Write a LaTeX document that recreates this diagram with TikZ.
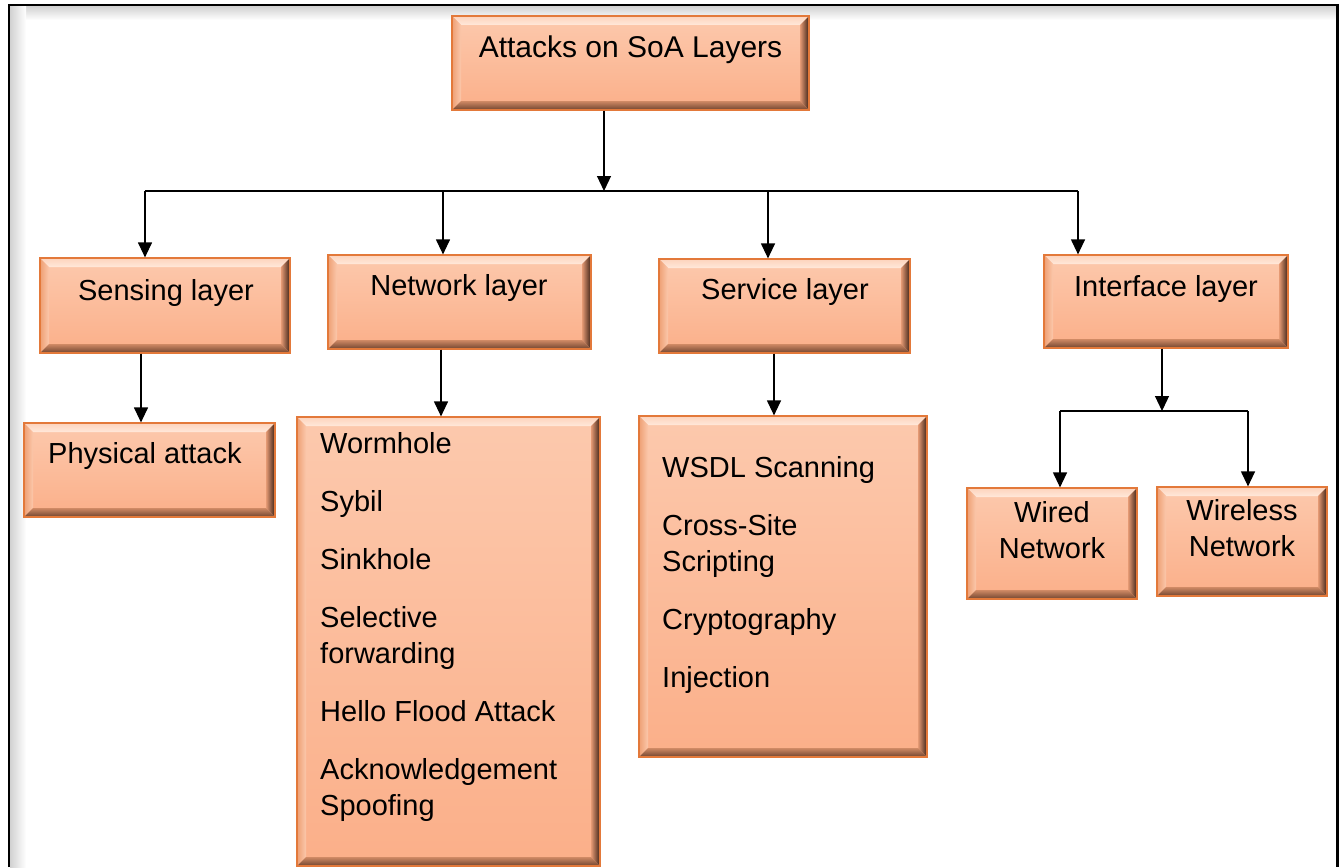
\documentclass[tikz,border=0pt]{standalone}
\usepackage{fontspec}
\setmainfont{Liberation Sans}
\usetikzlibrary{arrows.meta,calc}

\definecolor{fillTop}{HTML}{FCC9AD}
\definecolor{fillBot}{HTML}{FBAF89}
\definecolor{boxline}{HTML}{E3793A}
\definecolor{bevTopOut}{HTML}{FDD3BC}
\definecolor{bevTopIn}{HTML}{FFE8DA}
\definecolor{bevLeftOut}{HTML}{EE9F74}
\definecolor{bevLeftIn}{HTML}{FBC8AB}
\definecolor{bevRightIn}{HTML}{E59A74}
\definecolor{bevRightOut}{HTML}{3E2216}
\definecolor{bevBotIn}{HTML}{D08A65}
\definecolor{bevBotOut}{HTML}{70442F}

\newcommand\bevw{9pt}

\tikzset{
  box/.style={draw=boxline, line width=1.2pt, top color=fillTop, bottom color=fillBot,
    inner sep=0pt, path picture={
      \coordinate (pNW) at (path picture bounding box.north west);
      \coordinate (pNE) at (path picture bounding box.north east);
      \coordinate (pSW) at (path picture bounding box.south west);
      \coordinate (pSE) at (path picture bounding box.south east);
      % top bevel
      \shade[top color=bevTopOut, bottom color=bevTopIn]
        (pNW) -- (pNE) -- ([xshift=-\bevw,yshift=-\bevw]pNE) -- ([xshift=\bevw,yshift=-\bevw]pNW) -- cycle;
      % left bevel
      \shade[left color=bevLeftOut, right color=bevLeftIn]
        (pNW) -- ([xshift=\bevw,yshift=-\bevw]pNW) -- ([xshift=\bevw,yshift=\bevw]pSW) -- (pSW) -- cycle;
      % right bevel
      \shade[left color=bevRightIn, right color=bevRightOut]
        (pNE) -- ([xshift=-\bevw,yshift=-\bevw]pNE) -- ([xshift=-\bevw,yshift=\bevw]pSE) -- (pSE) -- cycle;
      % bottom bevel
      \shade[top color=bevBotIn, bottom color=bevBotOut]
        (pSW) -- ([xshift=\bevw,yshift=\bevw]pSW) -- ([xshift=-\bevw,yshift=\bevw]pSE) -- (pSE) -- cycle;
    }},
  lbl/.style={inner sep=0pt, font=\fontsize{29}{36}\selectfont},
  ln/.style={line width=1.2pt},
  arr/.style={line width=1.2pt, -{Triangle[width=14pt,length=15pt]}}
}

\begin{document}
\begin{tikzpicture}[x=1pt,y=-1pt]
\useasboundingbox (0,0) rectangle (1340,867);
\fill[white] (0,0) rectangle (1340,867);

% page frame with soft inner shadow
\shade[top color=black!18, bottom color=white] (10,6) rectangle (1336,20);
\shade[left color=black!18, right color=white] (10,6) rectangle (26,867);
\draw[line width=2pt] (9,867) -- (9,5) -- (1337,5);
\draw[line width=3pt] (1337,4) -- (1337,867);

% boxes
\node[box, minimum width=357pt, minimum height=94pt] (top) at (630.5,63) {};
\node[box, minimum width=250pt, minimum height=95pt] (sense) at (165,305.5) {};
\node[box, minimum width=263pt, minimum height=94pt] (net) at (459.5,302) {};
\node[box, minimum width=251pt, minimum height=94pt] (serv) at (784.5,306) {};
\node[box, minimum width=244pt, minimum height=93pt] (intf) at (1166,301.5) {};
\node[box, minimum width=251pt, minimum height=94pt] (phys) at (149.5,470) {};
\node[box, minimum width=303pt, minimum height=449pt] (netlist) at (448.5,641.5) {};
\node[box, minimum width=288pt, minimum height=341pt] (servlist) at (783,586.5) {};
\node[box, minimum width=170pt, minimum height=111pt] (wired) at (1052,543.5) {};
\node[box, minimum width=170pt, minimum height=109pt] (wireless) at (1242,541.5) {};

% texts (multi-line texts are anchored at the baseline of their last line)
\node[lbl, anchor=base, font=\fontsize{30}{36}\selectfont] (topT) at (630.5,57) {Attacks on SoA Layers};
\node[lbl, anchor=base] (senseT) at (166,300) {Sensing layer};
\node[lbl, anchor=base] (netT) at (459,295) {Network layer};
\node[lbl, anchor=base] (servT) at (785,299) {Service layer};
\node[lbl, anchor=base] (intfT) at (1166,296) {Interface layer};
\node[lbl, anchor=base west] (physT) at (48,463) {Physical attack};
\node[lbl, anchor=base, align=center] (wiredT) at (1052,558) {Wired\\Network};
\node[lbl, anchor=base, align=center] (wirelessT) at (1242,556) {Wireless\\Network};
\node[lbl, anchor=base west, align=left] (netlistT) at (320,815)
  {Wormhole\\[22pt]Sybil\\[22pt]Sinkhole\\[22pt]Selective\\forwarding\\[22pt]Hello Flood Attack\\[22pt]Acknowledgement\\Spoofing};
\node[lbl, anchor=base west, align=left] (servlistT) at (662,687)
  {WSDL Scanning\\[22pt]Cross-Site\\Scripting\\[22pt]Cryptography\\[22pt]Injection};

% first level connectors
\coordinate (hub) at (604,191);
\coordinate (bS) at (145,191);
\coordinate (bN) at (443,191);
\coordinate (bV) at (768,191);
\coordinate (bI) at (1078,191);
\draw[ln] (bS) -- (bI);
\draw[arr] (top.south -| hub) -- (hub);
\draw[arr] (bS) -- (bS |- sense.north);
\draw[arr] (bN) -- (bN |- net.north);
\draw[arr] (bV) -- (bV |- serv.north);
\draw[arr] (bI) -- (bI |- intf.north);

% second level connectors
\draw[arr] ([xshift=-24pt]sense.south) -- ([xshift=-24pt]sense.south |- phys.north);
\draw[arr] ([xshift=-18.5pt]net.south) -- ([xshift=-18.5pt]net.south |- netlist.north);
\draw[arr] ([xshift=-10.5pt]serv.south) -- ([xshift=-10.5pt]serv.south |- servlist.north);

\coordinate (hub2) at (1162,411);
\coordinate (bW) at (1060,411);
\coordinate (bL) at (1248,411);
\draw[arr] (intf.south -| hub2) -- (hub2);
\draw[ln] (bW) -- (bL);
\draw[arr] (bW) -- (bW |- wired.north);
\draw[arr] (bL) -- (bL |- wireless.north);
\end{tikzpicture}
\end{document}
